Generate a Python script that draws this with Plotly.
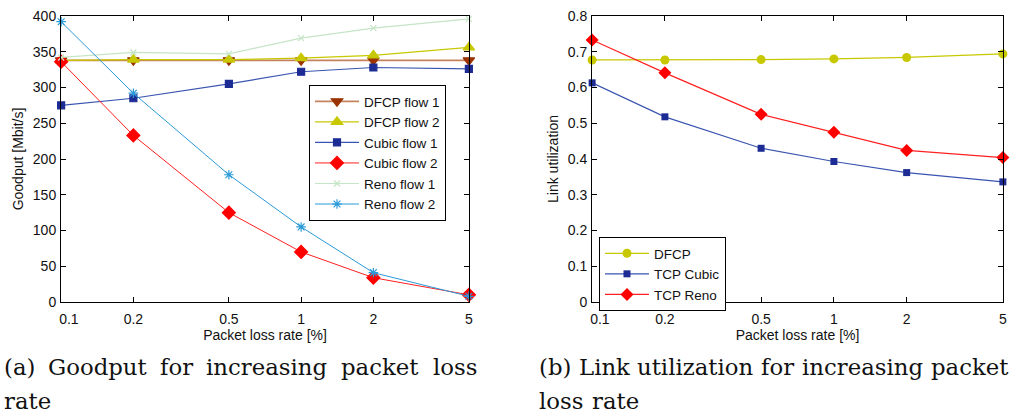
import math
import plotly.graph_objects as go

loss_rate = [0.1, 0.2, 0.5, 1, 2, 5]
tick_labels = ["\u00a0\u00a0\u00a0\u00a00.1", "0.2", "0.5", "1", "2", "5"]

dfcp_flow1 = [338, 338, 338, 338, 338, 338]
dfcp_flow2 = [338, 339, 339, 341, 345, 356]
cubic_flow1 = [275, 285, 305, 322, 328, 326]
cubic_flow2 = [336, 233, 125, 70, 34, 10]
reno_flow1 = [342, 349, 347, 369, 383, 396]
reno_flow2 = [392, 292, 178, 105, 41, 8]

util_dfcp = [0.677, 0.677, 0.678, 0.680, 0.684, 0.694]
util_cubic = [0.613, 0.518, 0.430, 0.393, 0.362, 0.336]
util_reno = [0.733, 0.641, 0.525, 0.475, 0.424, 0.404]

W, H = 1012, 414
def px_x(a, b):
    return [a / W, b / W]
def px_y(top, bottom):
    return [(H - bottom) / H, (H - top) / H]

fig = go.Figure()

left_series = [
    ("DFCP flow 1", dfcp_flow1, "#c4825e", "#993300", "triangle-down", 10, 1.8),
    ("DFCP flow 2", dfcp_flow2, "#c8c800", "#c8c800", "triangle-up", 10, 1.2),
    ("Cubic flow 1", cubic_flow1, "#3a55b0", "#1c2c94", "square", 7, 1.2),
    ("Cubic flow 2", cubic_flow2, "#ff2020", "#ff0000", "diamond", 10, 1.0),
    ("Reno flow 1", reno_flow1, "#c6e4c6", "#c6e4c6", "x-thin-open", 6, 1.2),
    ("Reno flow 2", reno_flow2, "#2b9ad8", "#2b9ad8", "asterisk-open", 8, 1.0),
]
for name, ys, lc, mc, sym, ms, lw in left_series:
    fig.add_trace(go.Scatter(
        x=loss_rate, y=ys, name=name, mode="lines+markers",
        line=dict(color=lc, width=lw),
        marker=dict(symbol=sym, size=ms, color=mc, line=dict(color=mc, width=1.2)),
        xaxis="x", yaxis="y", legend="legend", cliponaxis=False,
    ))

right_series = [
    ("DFCP", util_dfcp, "#c8c800", "#c8c800", "circle", 9),
    ("TCP Cubic", util_cubic, "#3a55b0", "#1c2c94", "square", 7),
    ("TCP Reno", util_reno, "#ff2020", "#ff0000", "diamond", 10),
]
for name, ys, lc, mc, sym, ms in right_series:
    fig.add_trace(go.Scatter(
        x=loss_rate, y=ys, name=name, mode="lines+markers",
        line=dict(color=lc, width=1.2),
        marker=dict(symbol=sym, size=ms, color=mc, line=dict(color=mc, width=0)),
        xaxis="x2", yaxis="y2", legend="legend2", cliponaxis=False,
    ))

font_sans = "Liberation Sans, Arial, sans-serif"
title_font = dict(family=font_sans, size=14, color="#111")
axis_common = dict(
    showline=True, linecolor="black", linewidth=1, mirror="ticks",
    ticks="inside", ticklen=5, tickcolor="black", showgrid=False, zeroline=False,
    automargin=False,
    tickfont=dict(family=font_sans, size=14, color="#111"),
)
x_lo = math.log10(loss_rate[0]) - 0.0005
x_hi = math.log10(loss_rate[-1]) + 0.0005
xaxis_common = dict(axis_common, type="log", range=[x_lo, x_hi],
                    tickvals=loss_rate, ticktext=tick_labels, ticklabelstandoff=4,
                    title=dict(text="Packet loss rate [%]", font=title_font, standoff=4))

fig.update_layout(
    width=W, height=H, margin=dict(l=0, r=0, t=0, b=0, autoexpand=False),
    paper_bgcolor="white", plot_bgcolor="white", showlegend=True,
    xaxis=dict(xaxis_common, domain=px_x(61, 469), anchor="y"),
    yaxis=dict(axis_common, domain=px_y(16, 302), anchor="x", range=[0, 400], dtick=50,
               ticklabelstandoff=1,
               title=dict(text="Goodput [Mbit/s]", font=title_font, standoff=5)),
    xaxis2=dict(xaxis_common, domain=px_x(592, 1003), anchor="y2"),
    yaxis2=dict(axis_common, domain=px_y(16, 302), anchor="x2", range=[0, 0.8], dtick=0.1,
                tickformat=".1~f", ticklabelstandoff=1,
                title=dict(text="Link utilization", font=title_font, standoff=5)),
    legend=dict(x=309 / W, y=(H - 85) / H, xanchor="left", yanchor="top",
                bgcolor="white", bordercolor="black", borderwidth=1,
                font=dict(family=font_sans, size=13.5, color="#111"), itemwidth=44, tracegroupgap=0),
    legend2=dict(x=599 / W, y=(H - 237) / H, xanchor="left", yanchor="top",
                 bgcolor="white", bordercolor="black", borderwidth=1,
                 font=dict(family=font_sans, size=13.5, color="#111"), itemwidth=44, tracegroupgap=0),
)

# Caption words placed at their justified positions (left x in px, line centre y in px)
cap_font = dict(family="DejaVu Serif, Liberation Serif, serif", size=22.8, color="#111")
caption_words = [
    ("(a)", 3, 367), ("Goodput", 47, 367), ("for", 159, 367), ("increasing", 205, 367),
    ("packet", 340, 367), ("loss", 432, 367),
    ("rate", 3, 401),
    ("(b)", 538, 367), ("Link", 578, 367), ("utilization", 636, 367), ("for", 760, 367),
    ("increasing", 801, 367), ("packet", 930, 367),
    ("loss", 538, 401), ("rate", 591, 401),
]
for text, x, y in caption_words:
    fig.add_annotation(text=text, x=x / W, y=(H - y) / H, xref="paper", yref="paper",
                       xanchor="left", yanchor="middle", showarrow=False, font=cap_font,
                       borderpad=0)

fig.write_html("out.html")
